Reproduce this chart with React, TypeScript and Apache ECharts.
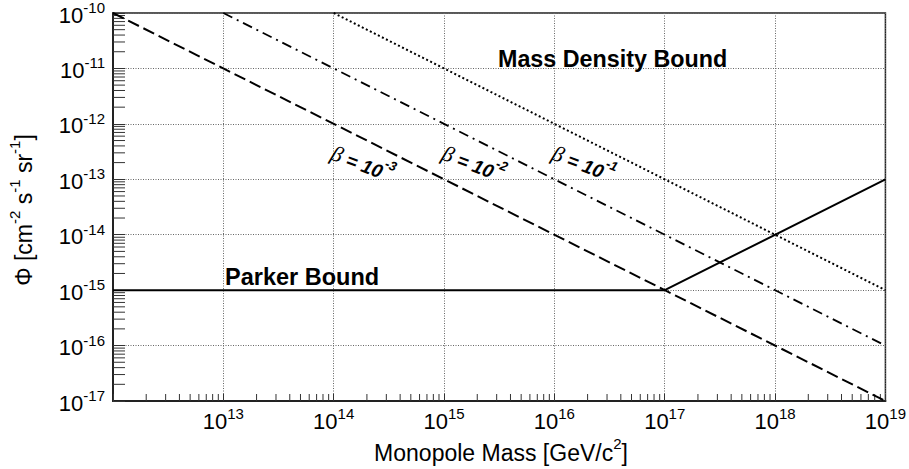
import React, { useEffect, useRef } from "react";
import * as echarts from "echarts";

// ---- data ----
const xAxisMin = 1e12;
const xAxisMax = 1e19;
const yAxisMin = 1e-17;
const yAxisMax = 1e-10;

const beta3Mass = [1e12, 1e19];
const beta3Flux = [1e-10, 1e-17];
const beta2Mass = [1e13, 1e19];
const beta2Flux = [1e-10, 1e-16];
const beta1Mass = [1e14, 1e19];
const beta1Flux = [1e-10, 1e-15];
const parkerMass = [1e12, 1e17, 1e19];
const parkerFlux = [1e-15, 1e-15, 1e-13];

const xDecadeExponents = [12, 13, 14, 15, 16, 17, 18];
const yDecadeExponents = [-17, -16, -15, -14, -13, -12, -11];
const minorMultipliers = [2, 3, 4, 5, 6, 7, 8, 9];
const hiddenXLabelExponents = [12];

const betaLabels = ["-3", "-2", "-1"];

const FONT = "'Liberation Sans', Arial, Helvetica, sans-serif";
const SERIF = "'Liberation Serif', 'DejaVu Serif', serif";

const pairs = (xs: number[], ys: number[]) => xs.map((x, i) => [x, ys[i]]);

export default function App() {
  const ref = useRef<HTMLDivElement>(null);

  useEffect(() => {
    if (!ref.current) return;
    const chart = echarts.init(ref.current, undefined, { renderer: "svg" });

    const xMinor: number[][] = [];
    xDecadeExponents.forEach((e) =>
      minorMultipliers.forEach((m) => xMinor.push([m * Math.pow(10, e), yAxisMin]))
    );
    const yMinor: number[][] = [];
    yDecadeExponents.forEach((e) =>
      minorMultipliers.forEach((m) => yMinor.push([xAxisMin, m * Math.pow(10, e)]))
    );

    const tickRich = {
      b: { fontSize: 22, lineHeight: 26, verticalAlign: "bottom", fontFamily: FONT, color: "#000" },
      s: { fontSize: 15, lineHeight: 15, verticalAlign: "top", fontFamily: FONT, color: "#000" },
    };

    const expOf = (v: number) => Math.round(Math.log10(v));

    const tickSeries = (data: number[][], dx: number, dy: number, name: string) => ({
      type: "custom",
      name,
      silent: true,
      clip: false,
      z: 5,
      data,
      renderItem: (_p: any, api: any) => {
        const p = api.coord([api.value(0), api.value(1)]);
        return {
          type: "line",
          shape: { x1: p[0], y1: p[1], x2: p[0] + dx, y2: p[1] + dy },
          style: { stroke: "#333", lineWidth: 1 },
        };
      },
    });

    const lineSeries = (data: number[][], type: any, width: number) => ({
      type: "line",
      data,
      showSymbol: false,
      symbol: "none",
      silent: true,
      z: 10,
      lineStyle: { color: "#000", width, type },
    });

    const betaRich = {
      g: { fontSize: 22, fontFamily: SERIF, fontStyle: "italic", color: "#000", lineHeight: 26, verticalAlign: "bottom" },
      t: { fontSize: 19, fontFamily: FONT, fontStyle: "italic", fontWeight: "bold", color: "#000", lineHeight: 26, verticalAlign: "bottom" },
      s: { fontSize: 13, fontFamily: FONT, fontStyle: "italic", fontWeight: "bold", color: "#000", lineHeight: 14, verticalAlign: "top" },
    };
    const betaX = [333, 444, 554];

    const titleRich = {
      n: { fontSize: 23, fontFamily: FONT, color: "#000", lineHeight: 28, verticalAlign: "bottom" },
      s: { fontSize: 15, fontFamily: FONT, color: "#000", lineHeight: 15, verticalAlign: "top" },
    };

    chart.setOption({
      animation: false,
      backgroundColor: "#fff",
      grid: {
        left: 113,
        top: 13,
        right: 23,
        bottom: 68,
        show: true,
        borderColor: "#222",
        borderWidth: 1.5,
        backgroundColor: "transparent",
      },
      xAxis: {
        type: "log",
        logBase: 10,
        min: xAxisMin,
        max: xAxisMax,
        interval: 1,
        axisLine: { show: true, lineStyle: { color: "#222", width: 2 } },
        axisTick: { show: true, inside: true, length: 7, lineStyle: { color: "#333" } },
        splitLine: { show: true, lineStyle: { color: "#666", type: [1, 1.5], width: 1 } },
        axisLabel: {
          margin: 5,
          hideOverlap: false,
          rich: tickRich,
          formatter: (v: number) => {
            const e = expOf(v);
            if (hiddenXLabelExponents.includes(e)) return "";
            return `{b|10}{s|${e}}`;
          },
        },
      },
      yAxis: {
        type: "log",
        logBase: 10,
        min: yAxisMin,
        max: yAxisMax,
        interval: 1,
        axisLine: { show: true, lineStyle: { color: "#222", width: 2 } },
        axisTick: { show: true, inside: true, length: 12, lineStyle: { color: "#333" } },
        splitLine: { show: true, lineStyle: { color: "#666", type: [1, 1.5], width: 1 } },
        axisLabel: {
          margin: 8,
          hideOverlap: false,
          rich: tickRich,
          formatter: (v: number) => `{b|10}{s|${expOf(v)}}`,
        },
      },
      series: [
        tickSeries(xMinor, 0, -7, "xMinor"),
        tickSeries(yMinor, 12, 0, "yMinor"),
        lineSeries(pairs(beta3Mass, beta3Flux), [12, 5], 2),
        lineSeries(pairs(beta2Mass, beta2Flux), [10, 5, 2, 5], 1.8),
        lineSeries(pairs(beta1Mass, beta1Flux), [2, 2.5], 2),
        lineSeries(pairs(parkerMass, parkerFlux), "solid", 2),
      ],
      graphic: [
        {
          type: "text",
          x: 498,
          y: 59,
          z: 20,
          style: {
            text: "Mass Density Bound",
            fontSize: 23.3,
            fontWeight: "bold",
            fontFamily: FONT,
            fill: "#000",
            align: "left",
            verticalAlign: "middle",
          },
        },
        {
          type: "text",
          x: 225,
          y: 277,
          z: 20,
          style: {
            text: "Parker Bound",
            fontSize: 23.5,
            fontWeight: "bold",
            fontFamily: FONT,
            fill: "#000",
            align: "left",
            verticalAlign: "middle",
          },
        },
        ...betaLabels.map((b, i) => ({
          type: "text",
          x: betaX[i],
          y: 150,
          z: 20,
          rotation: (-21 * Math.PI) / 180,
          style: {
            text: `{g|β}{t| = 10}{s|${b}}`,
            rich: betaRich,
            align: "left",
            verticalAlign: "middle",
          },
        })),
        {
          type: "text",
          x: 501,
          y: 450,
          z: 20,
          style: {
            text: "{n|Monopole Mass [GeV/c}{s|2}{n|]}",
            rich: titleRich,
            align: "center",
            verticalAlign: "middle",
          },
        },
        {
          type: "text",
          x: 21,
          y: 210,
          z: 20,
          rotation: Math.PI / 2,
          style: {
            text: "{n|Φ [cm}{s|-2}{n| s}{s|-1}{n| sr}{s|-1}{n|]}",
            rich: titleRich,
            align: "center",
            verticalAlign: "middle",
          },
        },
      ],
    });

    return () => chart.dispose();
  }, []);

  return (
    <div
      ref={ref}
      style={{ position: "absolute", left: 0, top: 0, width: 909, height: 469, background: "#fff" }}
    />
  );
}
